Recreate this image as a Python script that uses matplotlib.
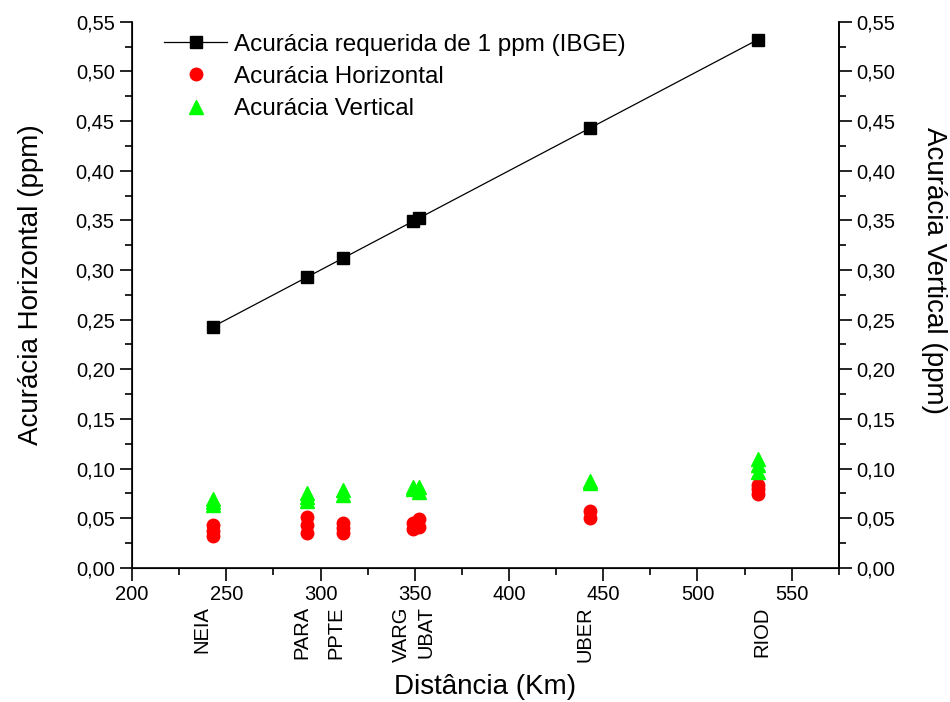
import matplotlib
matplotlib.use("Agg")
import matplotlib.pyplot as plt
from matplotlib.ticker import FuncFormatter, MultipleLocator
from matplotlib.transforms import offset_copy

plt.rcParams["font.family"] = ["Liberation Sans", "DejaVu Sans"]

# stations and their distances (km)
stations = ["NEIA", "PARA", "PPTE", "VARG", "UBAT", "UBER", "RIOD"]
distances = [243, 293, 312, 349, 352, 443, 532]

# required accuracy of 1 ppm (IBGE)
required = [0.243, 0.293, 0.312, 0.349, 0.352, 0.443, 0.532]

# horizontal accuracy, several sessions per station
horizontal = {
    "NEIA": [0.043, 0.037, 0.032],
    "PARA": [0.051, 0.043, 0.035],
    "PPTE": [0.045, 0.040, 0.035],
    "VARG": [0.045, 0.039],
    "UBAT": [0.049, 0.041],
    "UBER": [0.057, 0.050],
    "RIOD": [0.084, 0.079, 0.074],
}

# vertical accuracy
vertical = {
    "NEIA": [0.069, 0.066, 0.063],
    "PARA": [0.075, 0.071, 0.067],
    "PPTE": [0.078, 0.073],
    "VARG": [0.081, 0.079],
    "UBAT": [0.081, 0.076],
    "UBER": [0.088, 0.086],
    "RIOD": [0.110, 0.104, 0.097],
}

# small horizontal nudges (px) for the station names so they don't collide
label_nudge = [-11, -5, -7, -11, 7, -5, 4]


def comma_fmt(v, pos):
    return f"{v:.2f}".replace(".", ",")


fig = plt.figure(figsize=(9.5, 7.02), dpi=100)
ax = fig.add_axes([0.139, 0.191, 0.744, 0.778])

ax.plot(distances, required, color="black", lw=0.9, marker="s", ms=9,
        mfc="black", mec="black", label="Acurácia requerida de 1 ppm (IBGE)",
        zorder=3)

hx, hy, vx, vy = [], [], [], []
for st, d in zip(stations, distances):
    hx += [d] * len(horizontal[st])
    hy += horizontal[st]
    vx += [d] * len(vertical[st])
    vy += vertical[st]

ax.plot(hx, hy, ls="none", marker="o", ms=9, color="#ff0000",
        label="Acurácia Horizontal")
ax.plot(vx, vy, ls="none", marker="^", ms=10, color="#00ff00",
        label="Acurácia Vertical")

ax.set_xlim(200, 575)
ax.set_ylim(0, 0.55)
ax.xaxis.set_major_locator(MultipleLocator(50))
ax.xaxis.set_minor_locator(MultipleLocator(25))
ax.yaxis.set_major_locator(MultipleLocator(0.05))
ax.yaxis.set_minor_locator(MultipleLocator(0.025))
ax.yaxis.set_major_formatter(FuncFormatter(comma_fmt))
ax.tick_params(which="major", direction="out", length=9, width=1.2,
               labelsize=14.5)
ax.tick_params(which="minor", direction="out", length=5, width=1.2)
ax.spines["top"].set_visible(False)
for s in ["left", "bottom", "right"]:
    ax.spines[s].set_linewidth(1.2)

ax2 = ax.twinx()
ax2.set_ylim(0, 0.55)
ax2.yaxis.set_major_locator(MultipleLocator(0.05))
ax2.yaxis.set_minor_locator(MultipleLocator(0.025))
ax2.yaxis.set_major_formatter(FuncFormatter(comma_fmt))
ax2.tick_params(which="major", direction="out", length=9, width=1.2,
                labelsize=14.5)
ax2.tick_params(which="minor", direction="out", length=5, width=1.2)
ax2.spines["top"].set_visible(False)
ax2.spines["right"].set_linewidth(1.2)

# axis titles placed in figure coordinates
fig.text(0.511, 0.021, "Distância (Km)", fontsize=20, ha="center",
         va="center")
fig.text(0.033, 0.595, "Acurácia Horizontal (ppm)", fontsize=20,
         rotation=90, ha="center", va="center")
fig.text(0.983, 0.615, "Acurácia Vertical (ppm)", fontsize=20,
         rotation=-90, ha="center", va="center")

# station names under the distance axis
for st, d, nudge in zip(stations, distances, label_nudge):
    tr = offset_copy(ax.get_xaxis_transform(), fig=fig, x=nudge, y=0,
                     units="dots")
    ax.text(d, -0.07, st, transform=tr, rotation=90, ha="center",
            va="top", fontsize=14.5)

ax.legend(loc="upper left", bbox_to_anchor=(0.025, 1.005), frameon=False,
          fontsize=17.5, handlelength=2.6, handletextpad=0.25,
          labelspacing=0.42, borderaxespad=0.2)

fig.savefig("out.png", dpi=100)
